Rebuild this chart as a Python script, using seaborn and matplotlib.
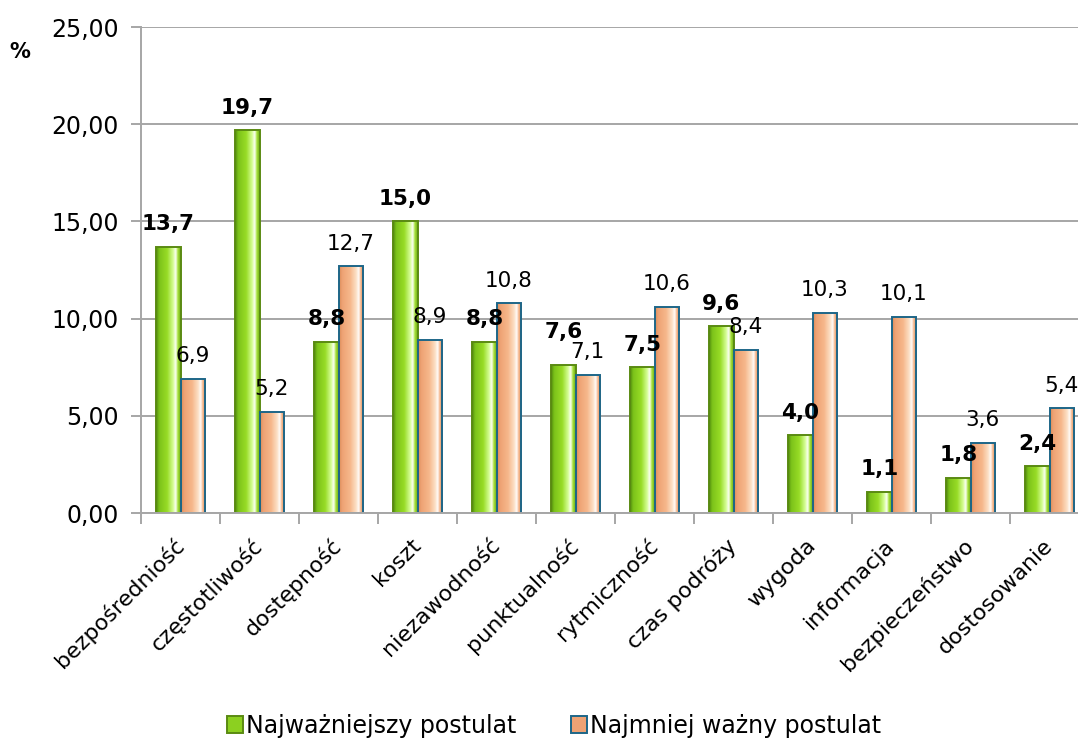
import numpy as np
import pandas as pd
import matplotlib
matplotlib.use("Agg")
import matplotlib.pyplot as plt
from matplotlib.patches import Patch
from matplotlib.colors import LinearSegmentedColormap
import seaborn as sns

categories = ["bezpośredniość", "częstotliwość", "dostępność", "koszt",
              "niezawodność", "punktualność", "rytmiczność", "czas podróży",
              "wygoda", "informacja", "bezpieczeństwo", "dostosowanie"]
most_important = [13.7, 19.7, 8.8, 15.0, 8.8, 7.6, 7.5, 9.6, 4.0, 1.1, 1.8, 2.4]
least_important = [6.9, 5.2, 12.7, 8.9, 10.8, 7.1, 10.6, 8.4, 10.3, 10.1, 3.6, 5.4]
series_names = ["Najważniejszy postulat", "Najmniej ważny postulat"]
y_ticks = [0, 5, 10, 15, 20, 25]

df = pd.DataFrame({
    "kategoria": categories * 2,
    "wartosc": most_important + least_important,
    "seria": [series_names[0]] * len(categories) + [series_names[1]] * len(categories),
})

sns.set_theme(style="white")
plt.rcParams["font.family"] = ["DejaVu Sans"]
plt.rcParams["text.color"] = "black"

fig = plt.figure(figsize=(10.78, 7.42), dpi=100)
ax = fig.add_axes([141 / 1078, 229 / 742, 948 / 1078, 486 / 742])

palette = {series_names[0]: "#8cd020", series_names[1]: "#f5b080"}
sns.barplot(data=df, x="kategoria", y="wartosc", hue="seria", palette=palette,
            width=0.61, ax=ax, legend=False, saturation=1)

# bevelled gradient fill for each bar
green_cmap = LinearSegmentedColormap.from_list(
    "g", [(0, "#4f8a0c"), (0.12, "#7cc21a"), (0.45, "#98dc26"),
          (0.7, "#d8ff9a"), (0.8, "#ffffff"), (0.88, "#a8e43a"), (1, "#6aa814")])
orange_cmap = LinearSegmentedColormap.from_list(
    "o", [(0, "#d98c58"), (0.12, "#eea274"), (0.45, "#f6b88c"),
          (0.7, "#fde2c8"), (0.8, "#ffffff"), (0.88, "#f6b488"), (1, "#dc9462")])
grad = np.linspace(0, 1, 64).reshape(1, -1)

# extra lift for a label that would otherwise collide with its neighbour
label_lift = {5: 0.55}

n = len(categories)
bars = ax.patches
for i, bar in enumerate(bars[:2 * n]):
    is_green = i < n
    x0 = bar.get_x()
    w = bar.get_width()
    h = bar.get_height()
    bar.set_edgecolor("#5a8a12" if is_green else "#1d6688")
    bar.set_linewidth(1.4)
    img = ax.imshow(grad, cmap=green_cmap if is_green else orange_cmap,
                    extent=[x0, x0 + w, 0, h], aspect="auto", zorder=bar.get_zorder(),
                    interpolation="bicubic")
    img.set_clip_path(bar)
    bar.set_facecolor("none")
    bar.set_zorder(bar.get_zorder() + 0.1)
    val = most_important[i] if is_green else least_important[i - n]
    lift = label_lift.get(i, 0) if is_green else 0
    ax.text(x0 + w / 2, h + 0.85 + lift, f"{val:.1f}".replace(".", ","),
            ha="center", va="baseline", fontsize=15.5,
            fontweight="bold" if is_green else "normal", color="black",
            zorder=5)

ax.set_xlim(-0.5, n - 0.5)
ax.set_ylim(0, 25)
ax.set_yticks(y_ticks)
ax.set_yticklabels([f"{v:.2f}".replace(".", ",") for v in y_ticks],
                   fontsize=17, color="black")
ax.yaxis.grid(True, color="#a6a6a6", linewidth=1.4)
ax.set_axisbelow(True)
ax.tick_params(axis="y", which="both", left=True, length=7, color="#a6a6a6",
               width=1.4, pad=9)

ax.set_xticks(range(n))
ax.set_xticklabels(categories, rotation=45, ha="right", va="center",
                   rotation_mode="anchor", fontsize=16, color="black")
ax.tick_params(axis="x", which="major", length=0, pad=21)
ax.set_xticks(np.arange(-0.5, n, 1), minor=True)
ax.tick_params(axis="x", which="minor", bottom=True, length=8, color="#a6a6a6",
               width=1.4)
ax.set_xlabel("")
ax.set_ylabel("")

for side in ["top", "right"]:
    ax.spines[side].set_visible(False)
for side in ["left", "bottom"]:
    ax.spines[side].set_color("#a6a6a6")
    ax.spines[side].set_linewidth(1.4)

fig.text(20 / 1078, 1 - 52 / 742, "%", fontsize=15, fontweight="bold",
         ha="center", va="center")

handles = [Patch(facecolor="#8cd020", edgecolor="#5a8a12", linewidth=1.4),
           Patch(facecolor="#eea274", edgecolor="#1d6688", linewidth=1.4)]
fig.legend(handles, series_names, loc="center", bbox_to_anchor=(554 / 1078, 1 - 726 / 742),
           ncol=2, frameon=False, fontsize=17, handlelength=0.68, handleheight=0.72,
           handletextpad=0.12, columnspacing=2.3, borderaxespad=0, borderpad=0)

fig.savefig("out.png", dpi=100)
